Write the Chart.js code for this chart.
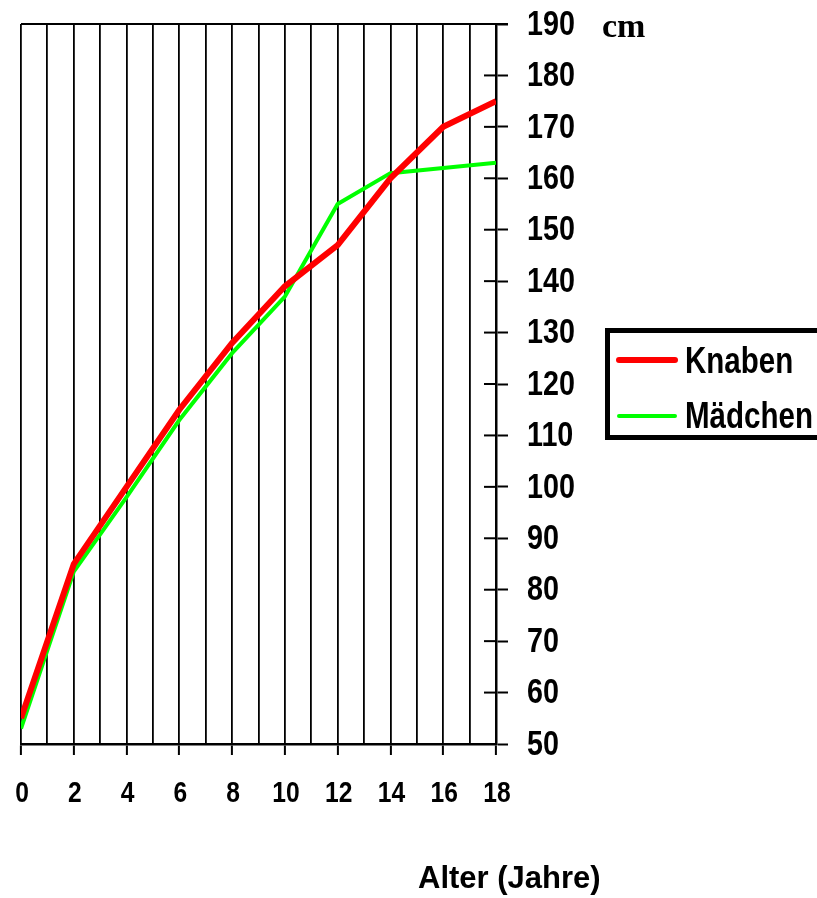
<!DOCTYPE html>
<html>
<head>
<meta charset="utf-8">
<title>Körpergröße nach Alter</title>
<script src="https://cdn.jsdelivr.net/npm/chart.js@4/dist/chart.umd.min.js"></script>
<style>
  html, body { margin: 0; padding: 0; background: #fff; }
  #wrap { position: relative; width: 817px; height: 898px; }
</style>
</head>
<body>
<div id="wrap"><canvas id="c" width="817" height="898"></canvas></div>
<script>
// Alter in Jahren und mittlere Körpergröße in cm
const ages = [0, 2, 4, 6, 8, 10, 12, 14, 16, 18];
const knaben = [55, 85, 100, 115, 128, 139, 147, 160, 170, 175];
const maedchen = [53, 83.5, 98, 113, 126, 137, 155, 161, 162, 163];
const seriesNames = ['Knaben', 'Mädchen'];
const unitLabel = 'cm';
const axisTitle = 'Alter (Jahre)';

const SANS = '"Liberation Sans", Arial, Helvetica, sans-serif';
const SERIF = '"Liberation Serif", "Times New Roman", serif';
const SQUEEZE = 0.82; // condensed bold lettering

const toPoints = (vals) => ages.map((a, i) => ({ x: a, y: vals[i] }));

// draw condensed bold text (horizontally squeezed)
function narrowText(ctx, text, x, y, size, align, baseline) {
  ctx.save();
  ctx.font = 'bold ' + size + 'px ' + SANS;
  ctx.textAlign = align;
  ctx.textBaseline = baseline;
  ctx.fillStyle = '#000';
  ctx.translate(x, y);
  ctx.scale(SQUEEZE, 1);
  ctx.fillText(text, 0, 0);
  ctx.restore();
}

// Extra decorations: frame line, inner tick halves, tick labels, unit, axis title, legend box
const decorations = {
  id: 'decorations',
  afterDraw(chart) {
    const ctx = chart.ctx;
    const area = chart.chartArea;
    const xs = chart.scales.x;
    const ys = chart.scales.y;
    ctx.save();
    ctx.strokeStyle = '#000';
    ctx.lineWidth = 2;
    // top frame line
    ctx.beginPath();
    ctx.moveTo(area.left, area.top);
    ctx.lineTo(area.right + 12, area.top);
    ctx.stroke();
    // tick marks crossing the right axis (inner half) and their labels
    ys.ticks.forEach(t => {
      const py = ys.getPixelForValue(t.value);
      ctx.beginPath();
      ctx.moveTo(area.right - 12, py);
      ctx.lineTo(area.right, py);
      ctx.stroke();
      narrowText(ctx, String(t.value), area.right + 31, py + 1, 35, 'left', 'middle');
    });
    // x tick labels on even years
    xs.ticks.forEach(t => {
      if (t.value % 2 !== 0) return;
      const px = xs.getPixelForValue(t.value);
      narrowText(ctx, String(t.value), px + 1, 802, 30, 'center', 'alphabetic');
    });
    // unit label
    ctx.fillStyle = '#000';
    ctx.font = 'bold 34px ' + SERIF;
    ctx.textAlign = 'left';
    ctx.textBaseline = 'alphabetic';
    ctx.fillText(unitLabel, area.right + 106, 37);
    // x axis title
    ctx.font = 'bold 31px ' + SANS;
    ctx.fillText(axisTitle, 418, 888);

    // legend
    const bx = 607.5, by = 330.5, bw = 220, bh = 107;
    ctx.lineWidth = 5;
    ctx.strokeRect(bx, by, bw, bh);
    const ds = chart.data.datasets;
    const rows = [360, 416];
    const bases = [373, 428];
    ds.forEach((d, i) => {
      ctx.strokeStyle = d.borderColor;
      ctx.lineWidth = d.borderWidth;
      ctx.lineCap = 'round';
      ctx.beginPath();
      ctx.moveTo(619, rows[i]);
      ctx.lineTo(675, rows[i]);
      ctx.stroke();
      narrowText(ctx, d.label, 685, bases[i], 36, 'left', 'alphabetic');
    });
    ctx.restore();
  }
};

new Chart(document.getElementById('c'), {
  type: 'line',
  data: {
    datasets: [
      {
        label: seriesNames[0],
        data: toPoints(knaben),
        borderColor: '#ff0000',
        borderWidth: 6,
        pointRadius: 0,
        tension: 0,
        borderJoinStyle: 'miter'
      },
      {
        label: seriesNames[1],
        data: toPoints(maedchen),
        borderColor: '#00ff00',
        borderWidth: 4,
        pointRadius: 0,
        tension: 0,
        borderJoinStyle: 'miter'
      }
    ]
  },
  options: {
    responsive: false,
    animation: false,
    events: [],
    layout: { padding: { top: 24, left: 21, right: 221, bottom: 0 } },
    plugins: {
      legend: { display: false },
      tooltip: { enabled: false }
    },
    scales: {
      x: {
        type: 'linear',
        min: 0,
        max: 18,
        afterFit(scale) { scale.height = 154; },
        ticks: { stepSize: 1, autoSkip: false, display: false },
        grid: {
          color: '#000',
          lineWidth: 1.8,
          tickLength: 11,
          tickWidth: 2,
          tickColor: (c) => (c.tick && c.tick.value % 2 === 0 ? '#000' : 'rgba(0,0,0,0)')
        },
        border: { color: '#000', width: 2.5 }
      },
      y: {
        position: 'right',
        min: 50,
        max: 190,
        afterFit(scale) { scale.width = 100; },
        ticks: { stepSize: 10, display: false },
        grid: {
          drawOnChartArea: false,
          color: '#000',
          tickLength: 12,
          tickWidth: 2
        },
        border: { color: '#000', width: 2.5 }
      }
    }
  },
  plugins: [decorations]
});
</script>
</body>
</html>
